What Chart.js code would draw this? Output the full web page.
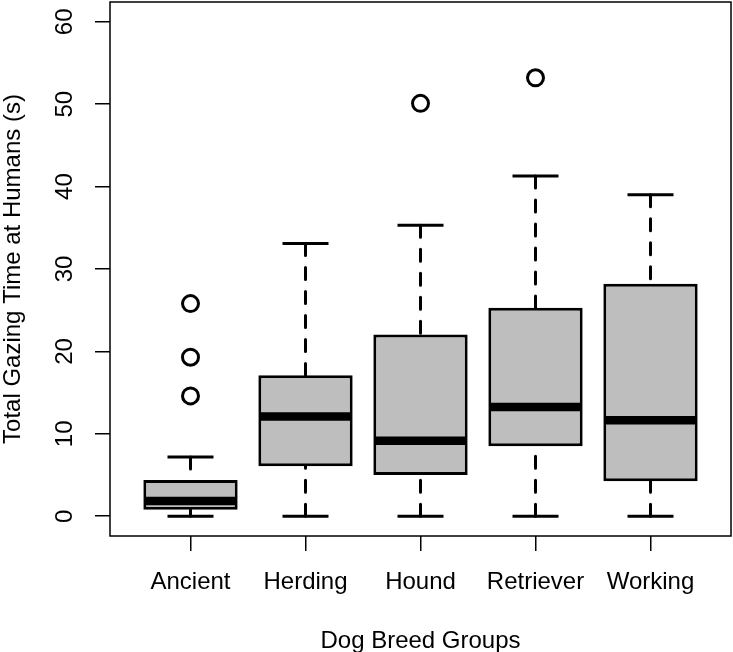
<!DOCTYPE html>
<html>
<head>
<meta charset="utf-8">
<script src="https://cdn.jsdelivr.net/npm/chart.js@4.4.1/dist/chart.umd.min.js"></script>
<style>
  html, body { margin: 0; padding: 0; background: #fff; }
  #wrap { width: 733px; height: 652px; }
</style>
</head>
<body>
<div id="wrap"><canvas id="gazeChart" width="733" height="652"></canvas></div>
<script>
// Boxplot stats per breed group (seconds)
const categories = ['Ancient', 'Herding', 'Hound', 'Retriever', 'Working'];
const whiskerLow = [0, 0, 0, 0, 0];
const quartile1 = [0.8, 6.05, 5.0, 8.5, 4.25];
const medians = [1.85, 12.1, 9.15, 13.25, 11.65];
const quartile3 = [4.4, 17.1, 22.05, 25.3, 28.2];
const whiskerHigh = [7.2, 33.1, 35.3, 41.3, 39.0];
const outliers = [[14.6, 19.3, 25.8], [], [50.1], [53.2], []];
const yTicks = [0, 10, 20, 30, 40, 50, 60];

const FONT = 'Liberation Sans, Arial, sans-serif';
const positions = categories.map((c, i) => i + 1);

// --- build datasets from the stats ---
const boxData = positions.map((x, i) => ({ x: x, y: [quartile1[i], quartile3[i]] }));

const medianData = [];
const whiskerData = [];
const stapleData = [];
const outlierData = [];
positions.forEach((x, i) => {
    medianData.push({ x: x - 0.4, y: medians[i] }, { x: x + 0.4, y: medians[i] }, { x: x + 0.4, y: null });
    // dashes start at the whisker end, like R does
    whiskerData.push({ x: x, y: whiskerHigh[i] }, { x: x, y: quartile3[i] }, { x: x, y: null });
    whiskerData.push({ x: x, y: whiskerLow[i] }, { x: x, y: quartile1[i] }, { x: x, y: null });
    stapleData.push({ x: x - 0.2, y: whiskerHigh[i] }, { x: x + 0.2, y: whiskerHigh[i] }, { x: x + 0.2, y: null });
    stapleData.push({ x: x - 0.2, y: whiskerLow[i] }, { x: x + 0.2, y: whiskerLow[i] }, { x: x + 0.2, y: null });
    outliers[i].forEach(v => outlierData.push({ x: x, y: v }));
});

// plot frame (R's box())
const frame = {
    id: 'frame',
    afterDraw(chart) {
        const { ctx, chartArea: a } = chart;
        ctx.save();
        ctx.strokeStyle = '#000';
        ctx.lineWidth = 1.5;
        ctx.strokeRect(a.left, a.top, a.right - a.left, a.bottom - a.top);
        ctx.restore();
    }
};

// keep label overhang from shrinking the plot area
function noPad(axis) {
    axis.paddingLeft = 0;
    axis.paddingRight = 0;
    axis.paddingTop = 0;
    axis.paddingBottom = 0;
}

const segLine = {
    type: 'scatter',
    showLine: true,
    spanGaps: false,
    pointRadius: 0,
    borderColor: '#000'
};

new Chart(document.getElementById('gazeChart'), {
    type: 'scatter',
    data: {
        datasets: [
            {
                type: 'scatter',
                data: outlierData,
                pointRadius: 8,
                pointBorderWidth: 3,
                borderColor: '#000',
                backgroundColor: 'rgba(0,0,0,0)',
                order: 0
            },
            { ...segLine, data: medianData, borderWidth: 8.5, borderCapStyle: 'butt', order: 1 },
            { ...segLine, data: stapleData, borderWidth: 3, borderCapStyle: 'butt', order: 2 },
            { ...segLine, data: whiskerData, borderWidth: 3, borderDash: [12, 12], borderCapStyle: 'round', order: 3 },
            {
                type: 'bar',
                data: boxData,
                backgroundColor: '#bebebe',
                borderColor: '#000',
                borderWidth: 3,
                borderSkipped: false,
                categoryPercentage: 1,
                barPercentage: 0.82,
                order: 10
            }
        ]
    },
    options: {
        responsive: false,
        animation: false,
        layout: { autoPadding: false, padding: { top: 2, right: 2, left: 0, bottom: 0 } },
        plugins: { legend: { display: false }, tooltip: { enabled: false } },
        scales: {
            x: {
                type: 'linear',
                min: 0.3,
                max: 5.7,
                offset: false,
                afterBuildTicks: axis => { axis.ticks = positions.map(v => ({ value: v })); },
                afterFit: axis => { axis.height = 116; noPad(axis); },
                border: { display: false },
                grid: { offset: false, drawOnChartArea: false, drawTicks: true, tickLength: 15, tickColor: '#000', lineWidth: 1.5 },
                ticks: {
                    autoSkip: false,
                    maxRotation: 0,
                    padding: 17,
                    color: '#000',
                    font: { family: FONT, size: 24 },
                    callback: v => categories[v - 1]
                },
                title: {
                    display: true,
                    text: 'Dog Breed Groups',
                    color: '#000',
                    font: { family: FONT, size: 24 },
                    padding: { top: 0, bottom: -4 }
                }
            },
            y: {
                min: -2.4,
                max: 62.4,
                afterBuildTicks: axis => { axis.ticks = yTicks.map(v => ({ value: v })); },
                afterFit: axis => { axis.width = 110; noPad(axis); },
                border: { display: false },
                grid: { drawOnChartArea: false, drawTicks: true, tickLength: 15, tickColor: '#000', lineWidth: 1.5 },
                ticks: {
                    minRotation: 90,
                    maxRotation: 90,
                    crossAlign: 'center',
                    padding: 16,
                    color: '#000',
                    font: { family: FONT, size: 24 }
                },
                title: {
                    display: true,
                    text: 'Total Gazing Time at Humans (s)',
                    color: '#000',
                    font: { family: FONT, size: 24 },
                    padding: { top: -1, bottom: 0 }
                }
            }
        }
    },
    plugins: [frame]
});
</script>
</body>
</html>
